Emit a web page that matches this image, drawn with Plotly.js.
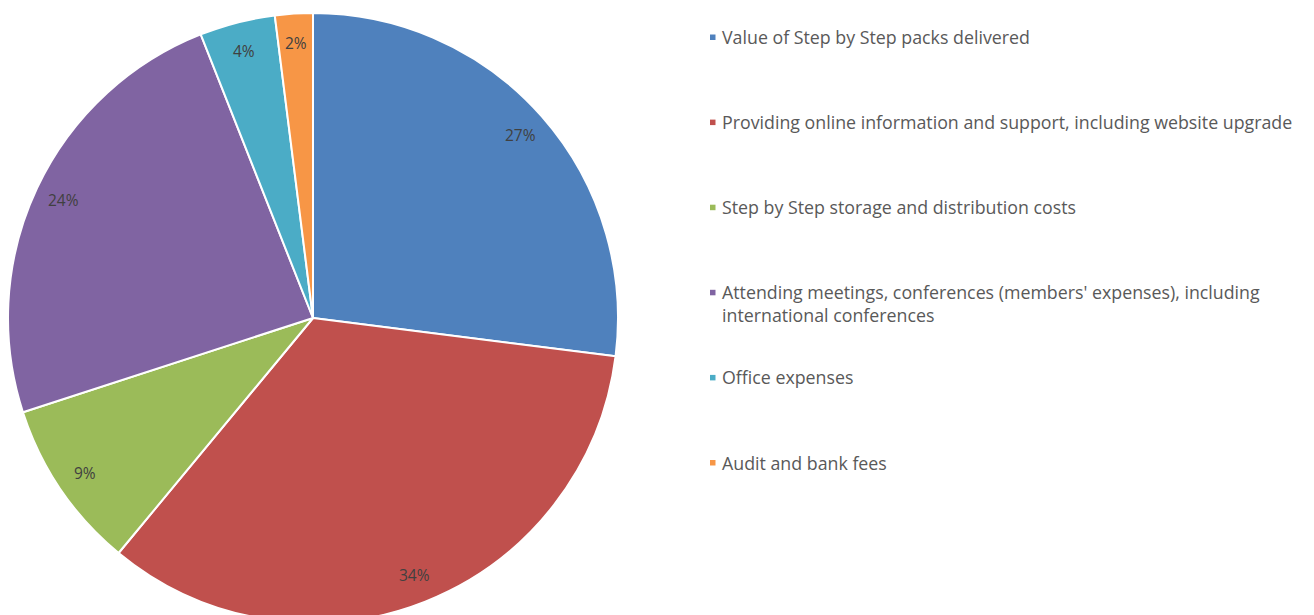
<!DOCTYPE html>
<html>
<head>
<meta charset="utf-8">
<script src="https://cdn.plot.ly/plotly-3.0.1.min.js"></script>
<style>
html,body{margin:0;padding:0;overflow:hidden;background:#fff;}
#chart{width:1314px;height:632px;}
</style>
</head>
<body>
<div id="chart"></div>
<script>
// ---- data ----
const categories = [
  "Value of Step by Step packs delivered",
  "Providing online information and support, including website upgrade",
  "Step by Step storage and distribution costs",
  "Attending meetings, conferences (members' expenses), including<br>international conferences",
  "Office expenses",
  "Audit and bank fees"
];
const shares = [27, 34, 9, 24, 4, 2];
const colors = ["#4F81BD", "#C0504D", "#9BBB59", "#8064A2", "#4BACC6", "#F79646"];

// ---- layout constants ----
const W = 1314, H = 632;
const cx = 313, cy = 318, R = 305;
const labelRadius = 0.905;
const legendX = 721, legendTop = 37, legendStep = 85.1;
const legendFont = 17.8, lineH = 1.3 * legendFont;

const total = shares.reduce((a, b) => a + b, 0);
const annotations = [];
const shapes = [];
let cum = 0;
shares.forEach((v, i) => {
  const mid = (cum + v / 2) / total * 2 * Math.PI;
  cum += v;
  const px = cx + labelRadius * R * Math.sin(mid);
  const py = cy - labelRadius * R * Math.cos(mid);
  annotations.push({
    x: px / W, y: 1 - py / H, xref: "paper", yref: "paper",
    text: Math.round(v / total * 100) + "%", showarrow: false,
    font: {family: "Open Sans, sans-serif", size: 15.5, color: "#404040"},
    xanchor: "center", yanchor: "middle"
  });
  const ly = legendTop + i * legendStep;
  const nLines = categories[i].split("<br>").length;
  annotations.push({
    x: legendX / W, y: 1 - (ly + (nLines - 1) * lineH / 2) / H, xref: "paper", yref: "paper",
    text: categories[i], showarrow: false, align: "left",
    font: {family: "Open Sans, sans-serif", size: legendFont, color: "#595959"},
    xanchor: "left", yanchor: "middle", borderpad: 0
  });
  shapes.push({
    type: "rect", xref: "paper", yref: "paper",
    x0: (legendX - 11) / W, x1: (legendX - 5.5) / W,
    y0: 1 - (ly + 3) / H, y1: 1 - (ly - 2.5) / H,
    fillcolor: colors[i], line: {width: 0}
  });
});

const trace = {
  type: "pie",
  labels: categories,
  values: shares,
  sort: false,
  direction: "clockwise",
  rotation: 0,
  marker: {colors: colors, line: {color: "#ffffff", width: 2}},
  textinfo: "none",
  hoverinfo: "label+percent",
  domain: {x: [(cx - R) / W, (cx + R) / W], y: [(H - cy - R) / H, (H - cy + R) / H]},
  showlegend: false
};

const layout = {
  width: W, height: H,
  margin: {l: 0, r: 0, t: 0, b: 0},
  paper_bgcolor: "#ffffff",
  plot_bgcolor: "#ffffff",
  annotations: annotations,
  shapes: shapes,
  showlegend: false
};

Plotly.newPlot("chart", [trace], layout, {displayModeBar: false, staticPlot: true});
</script>
</body>
</html>
